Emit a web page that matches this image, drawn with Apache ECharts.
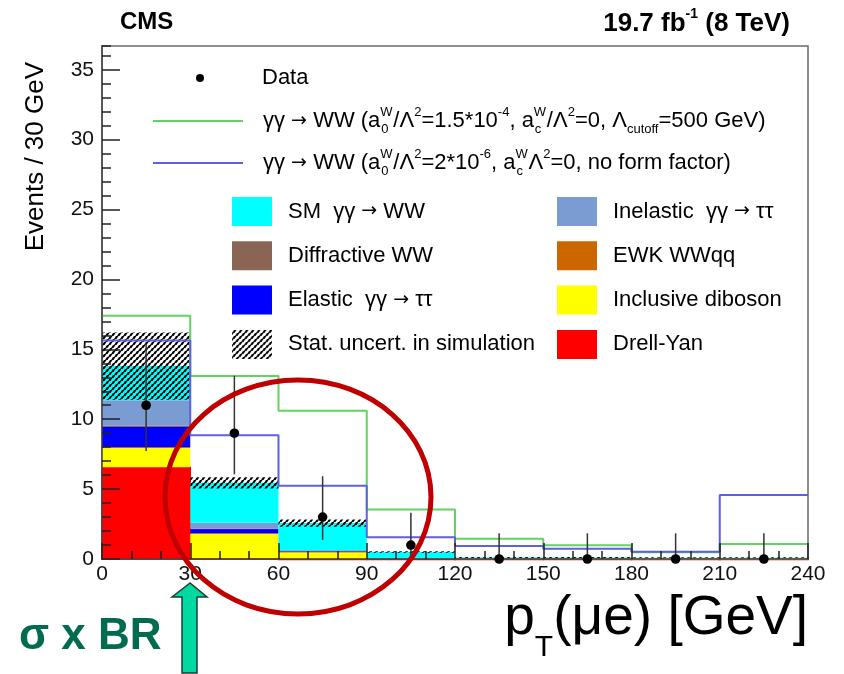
<!DOCTYPE html>
<html><head><meta charset="utf-8">
<script src="https://cdn.jsdelivr.net/npm/echarts@6/dist/echarts.min.js"></script>
<style>html,body{margin:0;padding:0;background:#fff}#c{width:844px;height:674px}</style>
</head><body><div id="c"></div>
<script>
// ---------------- data ----------------
const binEdges = [0, 30, 60, 90, 120, 150, 180, 210, 240];
const xTickLabels = ['0', '30', '60', '90', '120', '150', '180', '210', '240'];
const yTickLabels = ['0', '5', '10', '15', '20', '25', '30', '35'];
const drellYan       = [6.57, 0.05, 0.02, 0.02, 0.02, 0.02, 0.02, 0.02];
const inclDiboson    = [1.38, 1.74, 0.45, 0.03, 0.02, 0.02, 0.01, 0.01];
const ewkWWqq        = [0.05, 0.05, 0.08, 0.01, 0.00, 0.00, 0.00, 0.00];
const elasticTauTau  = [1.45, 0.30, 0.02, 0.00, 0.00, 0.00, 0.00, 0.00];
const diffractiveWW  = [0.10, 0.05, 0.02, 0.01, 0.01, 0.01, 0.00, 0.00];
const inelasticTauTau= [1.80, 0.41, 0.03, 0.01, 0.00, 0.00, 0.00, 0.00];
const smWW           = [2.45, 2.85, 1.95, 0.42, 0.05, 0.05, 0.06, 0.06];
const statUnc        = [2.40, 0.40, 0.26, 0.05, 0.05, 0.05, 0.04, 0.04];
const dataCounts     = [11, 9, 3, 1, 0, 0, 0, 0];
const dataErrLow     = [3.28, 2.94, 1.63, 0.83, 0, 0, 0, 0];
const dataErrHigh    = [4.41, 4.11, 2.92, 2.30, 1.84, 1.84, 1.84, 1.84];
const aqgcCutoff     = [17.4, 13.1, 10.6, 3.55, 1.45, 0.98, 0.48, 1.07];
const aqgcNoFF       = [15.64, 8.86, 5.24, 1.55, 0.93, 0.74, 0.52, 4.57];

// ---------------- styles ----------------
const FONT = "'Liberation Sans', Arial, Helvetica, sans-serif";
const ARFONT = "'DejaVu Sans', sans-serif";
const GREEN = '#62d262', BLUE = '#5f5fe3';

// hatch pattern (ROOT-like diagonal dashes)
const hc = document.createElement('canvas'); hc.width = 6; hc.height = 6;
(function(){ const g = hc.getContext('2d'); g.fillStyle = '#000';
  const para = (x, y) => { g.beginPath(); g.moveTo(x, y + 3); g.lineTo(x + 2, y); g.lineTo(x + 4.5, y); g.lineTo(x + 2.5, y + 3); g.closePath(); g.fill(); };
  para(0, 0); para(3, 3); para(-3, 3); para(6, 0); para(-6, 0);
})();
const HATCH = { image: hc, repeat: 'repeat' };

const stackDefs = [
  { name: 'Drell-Yan', values: drellYan, color: '#ff0000', stroke: true },
  { name: 'Inclusive diboson', values: inclDiboson, color: '#ffff00' },
  { name: 'EWK WWqq', values: ewkWWqq, color: '#cc6600' },
  { name: 'Elastic', values: elasticTauTau, color: '#0000ff' },
  { name: 'Diffractive WW', values: diffractiveWW, color: '#8a6455' },
  { name: 'Inelastic', values: inelasticTauTau, color: '#7b9bd3' },
  { name: 'SM', values: smWW, color: '#00ffff' }
];

function boxSeries(name, rows, fill, stroke, z) {
  return {
    type: 'custom', name, data: rows, z, silent: true,
    encode: { x: [0, 1], y: [2, 3] },
    itemStyle: { color: fill },
    emphasis: { disabled: true },
    renderItem(params, api) {
      const lo = api.value(2), hi = api.value(3);
      if (!(hi - lo > 0)) return null;
      const a = api.coord([api.value(0), hi]);
      const b = api.coord([api.value(1), lo]);
      return { type: 'rect', shape: { x: a[0], y: a[1], width: b[0] - a[0], height: Math.max(b[1] - a[1], 0.8) },
        style: { fill: fill, stroke: stroke ? fill : null, lineWidth: stroke ? 1.5 : 0 } };
    }
  };
}

const series = [];
const cum = new Array(8).fill(0);
stackDefs.forEach(def => {
  const rows = def.values.map((v, i) => { const lo = cum[i]; cum[i] = lo + v; return [binEdges[i], binEdges[i + 1], lo, lo + v]; });
  series.push(boxSeries(def.name, rows, def.color, def.stroke, 2));
});
const hatchRows = cum.map((t, i) => [binEdges[i], binEdges[i + 1], Math.max(t - statUnc[i], 0), t + statUnc[i]]);
series.push(boxSeries('Stat', hatchRows, HATCH, false, 3));

function stepData(vals) { return vals.map((v, i) => [binEdges[i], v]).concat([[binEdges[8], vals[7]]]); }
series.push({ type: 'line', name: 'cutoff', step: 'end', data: stepData(aqgcCutoff), symbol: 'none', silent: true,
  lineStyle: { color: GREEN, width: 2 }, itemStyle: { color: GREEN }, z: 6 });
series.push({ type: 'line', name: 'noff', step: 'end', data: stepData(aqgcNoFF), symbol: 'none', silent: true,
  lineStyle: { color: BLUE, width: 2 }, itemStyle: { color: BLUE }, z: 6 });

series.push({
  type: 'custom', name: 'Data', z: 30, silent: true,
  data: dataCounts.map((n, i) => [(binEdges[i] + binEdges[i + 1]) / 2, n, n - dataErrLow[i], n + dataErrHigh[i]]),
  encode: { x: 0, y: [1, 2, 3] }, itemStyle: { color: '#000' },
  renderItem(params, api) {
    const c = api.coord([api.value(0), api.value(1)]);
    const lo = api.coord([api.value(0), api.value(2)]);
    const hi = api.coord([api.value(0), api.value(3)]);
    return { type: 'group', children: [
      { type: 'line', shape: { x1: c[0], y1: lo[1], x2: c[0], y2: hi[1] }, style: { stroke: '#333', lineWidth: 1.5 } },
      { type: 'circle', shape: { cx: c[0], cy: c[1], r: 4.8 }, style: { fill: '#000' } }
    ] };
  }
});

const richBase = {
  n: { fontSize: 22, lineHeight: 30, fontFamily: FONT, color: '#000' },
  ar: { fontSize: 19, lineHeight: 30, fontFamily: ARFONT, color: '#000' },
  sup: { fontSize: 13, lineHeight: 14, verticalAlign: 'top', fontFamily: FONT, color: '#000' },
  sub: { fontSize: 13, lineHeight: 14, verticalAlign: 'bottom', fontFamily: FONT, color: '#000' },
  supz: { fontSize: 13, lineHeight: 14, verticalAlign: 'top', width: 1, fontFamily: FONT, color: '#000' },
  subw: { fontSize: 13, lineHeight: 14, verticalAlign: 'bottom', width: 12, fontFamily: FONT, color: '#000' }
};
const legendText = {
  'Data': '{n|Data}',
  'cutoff': '{n|γγ }{ar|→}{n| WW (a}{supz|W}{subw|0}{n|/Λ}{sup|2}{n|=1.5*10}{sup|-4}{n|, a}{supz|W}{subw|c}{n|/Λ}{sup|2}{n|=0, Λ}{sub|cutoff}{n|=500 GeV)}',
  'noff': '{n|γγ }{ar|→}{n| WW (a}{supz|W}{subw|0}{n|/Λ}{sup|2}{n|=2*10}{sup|-6}{n|, a}{supz|W}{subw|c}{n|Λ}{sup|2}{n|=0, no form factor)}',
  'SM': '{n|SM  γγ }{ar|→}{n| WW}',
  'Diffractive WW': '{n|Diffractive WW}',
  'Elastic': '{n|Elastic  γγ }{ar|→}{n| ττ}',
  'Stat': '{n|Stat. uncert. in simulation}',
  'Inelastic': '{n|Inelastic  γγ }{ar|→}{n| ττ}',
  'EWK WWqq': '{n|EWK WWqq}',
  'Inclusive diboson': '{n|Inclusive diboson}',
  'Drell-Yan': '{n|Drell-Yan}'
};

const lineLegend = (left, top, w, pad, item) => ({
  left, top, padding: 0, orient: 'vertical', itemWidth: w, itemHeight: 8, selectedMode: false,
  data: [item], formatter: n => legendText[n],
  textStyle: { fontFamily: FONT, fontSize: 22, color: '#000', padding: [0, 0, 0, pad], rich: richBase }
});
const boxLegend = (left, names) => ({
  left, top: 197, padding: 0, orient: 'vertical', itemWidth: 40, itemHeight: 29, itemGap: 15.3, selectedMode: false,
  data: names.map(n => ({ name: n, icon: 'rect' })),
  formatter: n => legendText[n],
  textStyle: { fontFamily: FONT, fontSize: 22, color: '#000', padding: [0, 0, 0, 11],
    rich: { n: { fontSize: 22, lineHeight: 29, fontFamily: FONT, color: '#000' }, ar: { fontSize: 19, lineHeight: 29, fontFamily: ARFONT, color: '#000' } } }
});

const option = {
  animation: false,
  backgroundColor: '#fff',
  grid: { left: 102, right: 36, top: 46, bottom: 115, show: true, borderColor: '#6a6a6a', borderWidth: 1.5 },
  xAxis: {
    type: 'value', min: 0, max: 240, interval: 30, z: 10,
    axisLine: { show: true, onZero: false, lineStyle: { color: '#444', width: 1.5 } },
    axisTick: { inside: true, length: 16, lineStyle: { color: '#222', width: 1.5 } },
    minorTick: { show: true, splitNumber: 3, length: 8, lineStyle: { color: '#222', width: 1.5 } },
    axisLabel: { fontSize: 21, color: '#111', margin: 5, fontFamily: FONT,
      formatter: v => xTickLabels[binEdges.indexOf(v)] || '' },
    splitLine: { show: false }
  },
  yAxis: [{
    type: 'value', min: 0, max: 36.7, interval: 5, z: 10,
    axisLine: { show: true, lineStyle: { color: '#444', width: 1.5 } },
    axisTick: { inside: true, length: 18, lineStyle: { color: '#222', width: 1.5 } },
    axisLabel: { fontSize: 21, color: '#111', margin: 8, fontFamily: FONT, showMaxLabel: false,
      formatter: v => yTickLabels[v / 5] || '' },
    splitLine: { show: false }
  }, {
    type: 'value', min: 0, max: 36.7, interval: 1, position: 'left', z: 10,
    axisLine: { show: false }, axisLabel: { show: false },
    axisTick: { show: true, inside: true, length: 9, lineStyle: { color: '#222', width: 1.5 } },
    splitLine: { show: false }
  }],
  legend: [
    lineLegend(196, 67, 8, 53, { name: 'Data', icon: 'circle' }),
    lineLegend(152, 106, 90, 15, { name: 'cutoff', itemStyle: { opacity: 0 } }),
    lineLegend(152, 148, 90, 15, { name: 'noff', itemStyle: { opacity: 0 } }),
    boxLegend(232, ['SM', 'Diffractive WW', 'Elastic', 'Stat']),
    boxLegend(557, ['Inelastic', 'EWK WWqq', 'Inclusive diboson', 'Drell-Yan'])
  ],
  graphic: [
    { type: 'text', left: 120, top: 10, style: { text: 'CMS', font: "bold 24px " + FONT, fill: '#000' } },
    { type: 'text', x: 790, y: 7, style: { text: '{b|19.7 fb}{s|-1}{b| (8 TeV)}', align: 'right', fill: '#000',
        rich: { b: { font: "bold 26px " + FONT, lineHeight: 30, verticalAlign: 'bottom' }, s: { font: "bold 14px " + FONT, lineHeight: 15, verticalAlign: 'top' } } } },
    { type: 'text', x: 36, y: 62, rotation: Math.PI / 2, style: { text: 'Events / 30 GeV', align: 'right', verticalAlign: 'middle',
        font: "26px " + FONT, fill: '#000' } },
    { type: 'text', x: 808, y: 591, style: { text: '{m|p}{t|T}{m|(μe) [GeV]}', align: 'right', fill: '#000',
        rich: { m: { font: "55px " + FONT, lineHeight: 72, verticalAlign: 'top' }, t: { font: "30px " + FONT, lineHeight: 14, verticalAlign: 'bottom' } } } },
    { type: 'ellipse', shape: { cx: 298, cy: 497, rx: 133, ry: 117 }, style: { fill: null, stroke: '#c00000', lineWidth: 5 }, z: 100 },
    { type: 'polygon', shape: { points: [[190, 583], [172, 597], [182, 597], [182, 673], [197, 673], [197, 597], [207, 597]] },
      style: { fill: '#00d9a2', stroke: '#1d3d33', lineWidth: 1.5 }, z: 100 },
    { type: 'text', x: 19, y: 637, style: { text: 'σ x BR', font: "bold 44px " + FONT, fill: '#006b4f', verticalAlign: 'middle' }, z: 100 }
  ],
  series
};

const chart = echarts.init(document.getElementById('c'), null, { renderer: 'canvas' });
chart.setOption(option);
</script>
</body></html>
